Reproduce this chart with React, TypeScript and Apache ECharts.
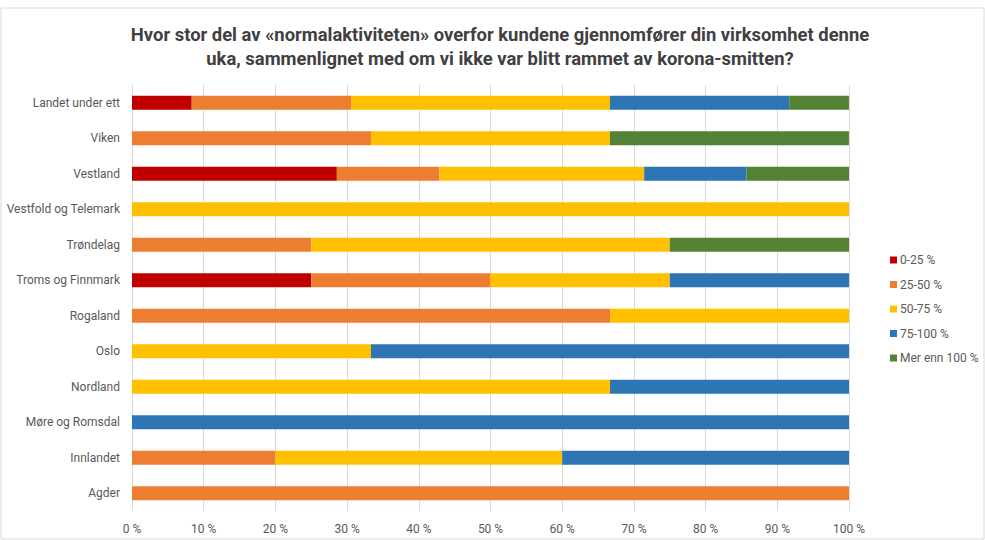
import React, { useEffect, useRef } from "react";
import * as echarts from "echarts";

const categories = [
  "Landet under ett",
  "Viken",
  "Vestland",
  "Vestfold og Telemark",
  "Trøndelag",
  "Troms og Finnmark",
  "Rogaland",
  "Oslo",
  "Nordland",
  "Møre og Romsdal",
  "Innlandet",
  "Agder",
];

const seriesNames = ["0-25 %", "25-50 %", "50-75 %", "75-100 %", "Mer enn 100 %"];
const seriesColors = ["#C00000", "#ED7D31", "#FFC000", "#2E75B6", "#548235"];

const s0_25 = [8.33, 0, 28.57, 0, 0, 25, 0, 0, 0, 0, 0, 0];
const s25_50 = [22.22, 33.33, 14.29, 0, 25, 25, 66.67, 0, 0, 0, 20, 100];
const s50_75 = [36.11, 33.33, 28.57, 100, 50, 25, 33.33, 33.33, 66.67, 0, 40, 0];
const s75_100 = [25, 0, 14.29, 0, 0, 25, 0, 66.67, 33.33, 100, 40, 0];
const sOver100 = [8.33, 33.33, 14.29, 0, 25, 0, 0, 0, 0, 0, 0, 0];

const seriesValues = [s0_25, s25_50, s50_75, s75_100, sOver100];

const titleLines = [
  "Hvor stor del av «normalaktiviteten» overfor kundene gjennomfører din virksomhet denne",
  "uka, sammenlignet med om vi ikke var blitt rammet av korona-smitten?",
];

export default function App() {
  const ref = useRef<HTMLDivElement>(null);
  useEffect(() => {
    if (!ref.current) return;
    const chart = echarts.init(ref.current, undefined, { renderer: "svg" });
    const font = "Roboto";
    chart.setOption({
      animation: false,
      backgroundColor: "#ffffff",
      graphic: [
        {
          type: "rect",
          shape: { x: 1, y: 8, width: 983, height: 531 },
          style: { fill: "none", stroke: "#d9d9d9", lineWidth: 1 },
          silent: true,
        },
      ],
      title: {
        text: titleLines.join("\n"),
        left: 495,
        top: 17,
        textAlign: "center",
        textStyle: {
          fontFamily: font,
          fontSize: 18.4,
          fontWeight: "bold",
          color: "#404040",
          lineHeight: 24,
        },
      },
      legend: {
        orient: "vertical",
        left: 885,
        top: 249,
        itemWidth: 7,
        itemHeight: 7,
        itemGap: 12.5,
        icon: "rect",
        textStyle: { fontFamily: font, fontSize: 12, color: "#595959", padding: [0, 0, 0, -2] },
        data: seriesNames,
      },
      grid: { left: 132, right: 136, top: 85, height: 426, containLabel: false },
      xAxis: {
        type: "value",
        min: 0,
        max: 100,
        interval: 10,
        axisLine: { show: false },
        axisTick: { show: false },
        splitLine: { show: true, lineStyle: { color: "#d9d9d9", width: 1 } },
        axisLabel: {
          formatter: (v: number) => `${v} %`,
          fontFamily: font,
          fontSize: 12,
          color: "#595959",
          margin: 12,
        },
      },
      yAxis: {
        type: "category",
        inverse: true,
        data: categories,
        axisLine: { show: false },
        axisTick: { show: false },
        axisLabel: { fontFamily: font, fontSize: 12, color: "#595959", margin: 12 },
      },
      series: seriesNames.map((name, i) => ({
        name,
        type: "bar",
        stack: "total",
        barWidth: 14,
        itemStyle: { color: seriesColors[i] },
        data: seriesValues[i],
      })),
    });
    return () => chart.dispose();
  }, []);
  return (
    <div
      ref={ref}
      style={{ position: "absolute", left: 0, top: 0, width: 985, height: 540 }}
    />
  );
}
